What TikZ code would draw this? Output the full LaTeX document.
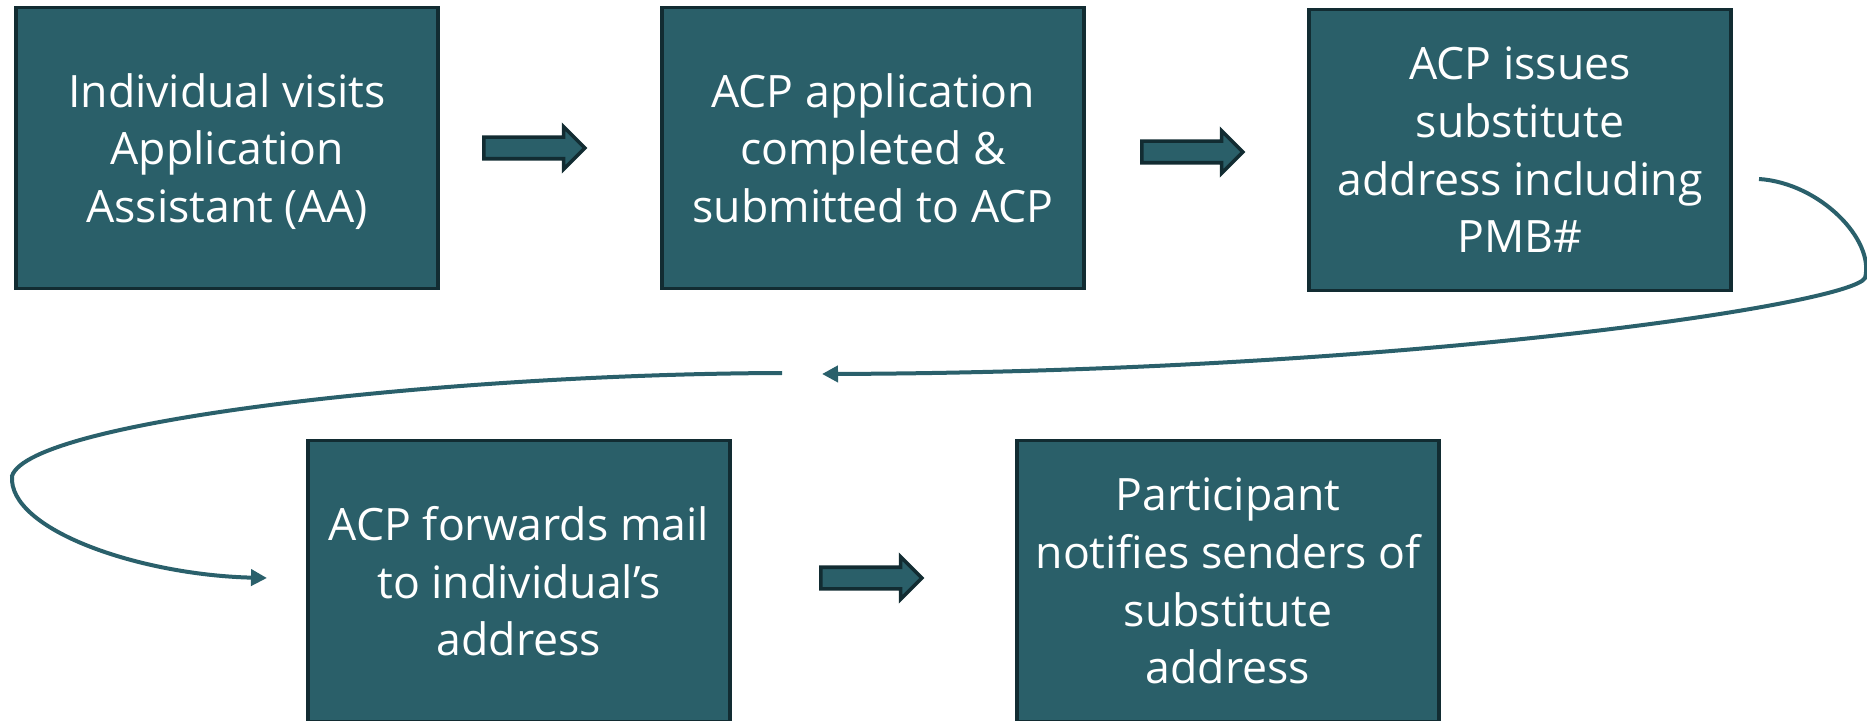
\documentclass[tikz,border=0pt]{standalone}
\usepackage{fontspec}
\setmainfont{Open Sans}
\usetikzlibrary{shapes.arrows,arrows.meta}

\definecolor{boxteal}{RGB}{42,95,105}
\definecolor{boxedge}{RGB}{18,44,50}
\definecolor{lineteal}{RGB}{42,96,107}

\begin{document}
\begin{tikzpicture}[x=0.5pt,y=-0.5pt,
    stepbox/.style={rectangle, draw=boxedge, fill=boxteal, line width=1.8pt,
        minimum width=211pt, minimum height=140.5pt, inner sep=0pt,
        text=white, align=center, font=\fontsize{22.3pt}{28.8pt}\selectfont,
        text depth=-1pt},
    blockarr/.style={single arrow, draw=boxedge, fill=boxteal, line width=1.8pt,
        inner sep=4.5pt, single arrow head extend=5.25pt, minimum height=50.5pt},
    curvearr/.style={draw=lineteal, line width=2pt,
        -{Triangle[length=8pt,width=8pt]}}]
    \useasboundingbox (0,0) rectangle (1867,721);

    \node[stepbox] (visit) at (227,148) {Individual visits\\Application\\Assistant (AA)};
    \node[stepbox] (apply) at (873,148) {ACP application\\completed \&\\submitted to ACP};
    \node[stepbox] (issue) at (1520,150) {ACP issues\\substitute\\address including\\PMB\#};
    \node[stepbox] (forward) at (519,581) {ACP forwards mail\\to individual’s\\address};
    \node[stepbox] (notify) at (1228,581) {Participant\\notifies senders of\\substitute\\address};

    \node[blockarr] (a1) at (529,148) {};
    \node[blockarr] (a2) at (1187,152) {};
    \node[blockarr] (a3) at (866,578) {};

    % loop back from the top row to the bottom row
    \coordinate (issueout) at (1759,179);
    \coordinate (rbend) at (1865,278);
    \coordinate (backin) at (822,374);
    \coordinate (backout) at (782,373);
    \coordinate (lbend) at (12,476);
    \coordinate (forwardin) at (267,578);

    \draw[curvearr] (issueout) .. controls (1820,183) and (1875,240) .. (rbend)
        .. controls (1850,305) and (1400,372) .. (backin);
    \draw[curvearr] (backout) .. controls (450,374) and (30,420) .. (lbend)
        .. controls (8,530) and (140,575) .. (forwardin);
\end{tikzpicture}
\end{document}
